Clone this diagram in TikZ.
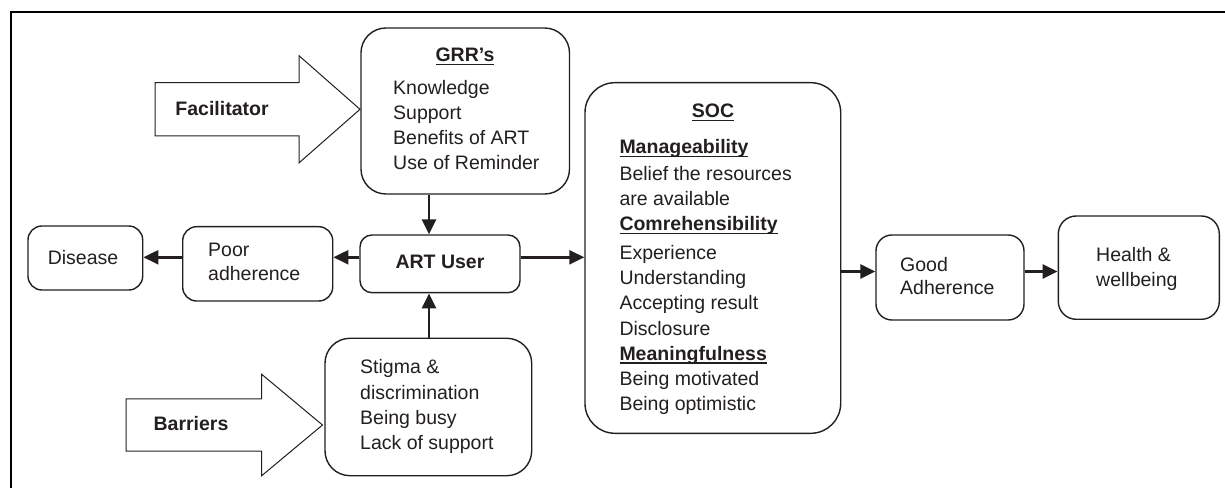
\documentclass[tikz,border=0pt]{standalone}
\usepackage{fontspec}
\setmainfont{Liberation Sans}
\usetikzlibrary{arrows.meta}
\definecolor{ink}{HTML}{231F20}
% bold heading with a flat underline that runs through the descenders
\newcommand\ulhead[1]{\setbox0=\hbox{\bfseries #1}\rlap{\rule[-3.3bp]{\wd0}{1.5bp}}\box0}
% left-aligned list whose reference point is the first baseline
\newcommand\linelist[1]{\begin{tabular}[t]{@{}l@{}}#1\end{tabular}}

\begin{document}
\begin{tikzpicture}[x=1bp,y=-1bp,
  every node/.style={text=ink, inner sep=0pt, font=\fontsize{19.5bp}{25.3bp}\selectfont},
  rbox/.style={draw=ink, line width=1.4bp, fill=white, rounded corners=#1},
  conn/.style={draw=ink, line width=2.5bp, -{Triangle[length=15bp,width=14bp]}},
  blockarrow/.style={draw=ink, line width=1bp, fill=white, line join=miter},
  frameline/.style={draw=black, line width=2.2bp}]

\fill[white] (0,0) rectangle (1225,488);
\useasboundingbox (0,0) rectangle (1225,488);

% frame along the top and left edges
\draw[frameline] (11,488) -- (11,12) -- (1225,12);

% boxes
\node[rbox=25, minimum width=208.5bp, minimum height=166bp] (grr) at (465.25,111) {};
\node[rbox=12, minimum width=160bp, minimum height=57.7bp] (art) at (440,263.85) {};
\node[rbox=14, minimum width=150bp, minimum height=74.3bp] (poor) at (257.7,263.85) {};
\node[rbox=14, minimum width=114.7bp, minimum height=64bp] (dis) at (85.35,258) {};
\node[rbox=25, minimum width=206.7bp, minimum height=137.4bp] (bar) at (428.35,407) {};
\node[rbox=30, minimum width=255.7bp, minimum height=350.6bp] (soc) at (712.85,258) {};
\node[rbox=16, minimum width=148bp, minimum height=85bp] (good) at (950,277.5) {};
\node[rbox=18, minimum width=161bp, minimum height=103.3bp] (hlth) at (1138.8,267.65) {};

% block arrows feeding the resource boxes
\draw[blockarrow] (155,82.7) -- (299,82.7) -- (299,55.7) -- (360,109.3)
  -- (299,162.9) -- (299,136) -- (155,136) -- cycle;
\node (facl) at (222,108.5) {\bfseries Facilitator};
\draw[blockarrow] (126,399) -- (261.7,399) -- (261.7,374.3) -- (322.5,425)
  -- (261.7,475.7) -- (261.7,451) -- (126,451) -- cycle;
\node (barl) at (191,424) {\bfseries Barriers};

% box texts
\node[anchor=base] (grrT) at (465,62) {\ulhead{GRR’s}};
\node[anchor=base west] (grrL) at (393,95)
  {\linelist{Knowledge\\[-0.3bp] Support\\[-0.3bp] Benefits of ART\\[-0.3bp] Use of Reminder}};

\node (artT) at (440,262) {\bfseries ART User};
\node[anchor=base west] (poorL) at (208,256.5) {\linelist{Poor\\[-1.3bp] adherence}};
\node[anchor=base] (disL) at (83,264.5) {Disease};

\node[anchor=base west] (barL) at (360,374)
  {\linelist{Stigma \&\\ discrimination\\ Being busy\\ Lack of support}};

\node[anchor=base] (socT) at (713,118) {\ulhead{SOC}};
\node[anchor=base west] (socL) at (619.3,154)
  {\linelist{\ulhead{Manageability}\\[1bp] Belief the resources\\ are available\\
   \ulhead{Comrehensibility}\\[3bp] Experience\\ Understanding\\ Accepting result\\
   Disclosure\\ \ulhead{Meaningfulness}\\ Being motivated\\ Being optimistic}};

\node[anchor=base west] (goodL) at (900,271.5) {\linelist{Good\\[-2.3bp] Adherence}};
\node[anchor=base west] (hlthL) at (1096,261.5) {\linelist{Health \&\\ wellbeing}};

% connectors
\coordinate (vx) at (429,0);
\coordinate (hy) at (0,257.3);
\coordinate (hy2) at (0,271.5);
\draw[conn] (grr.south -| vx) -- (art.north -| vx);
\draw[conn] (bar.north -| vx) -- (art.south -| vx);
\draw[conn] (art.west |- hy) -- (poor.east |- hy);
\draw[conn] (poor.west |- hy) -- (dis.east |- hy);
\draw[conn] (art.east |- hy) -- (soc.west |- hy);
\draw[conn] (soc.east |- hy2) -- (good.west |- hy2);
\draw[conn] (good.east |- hy2) -- (hlth.west |- hy2);
\end{tikzpicture}
\end{document}
